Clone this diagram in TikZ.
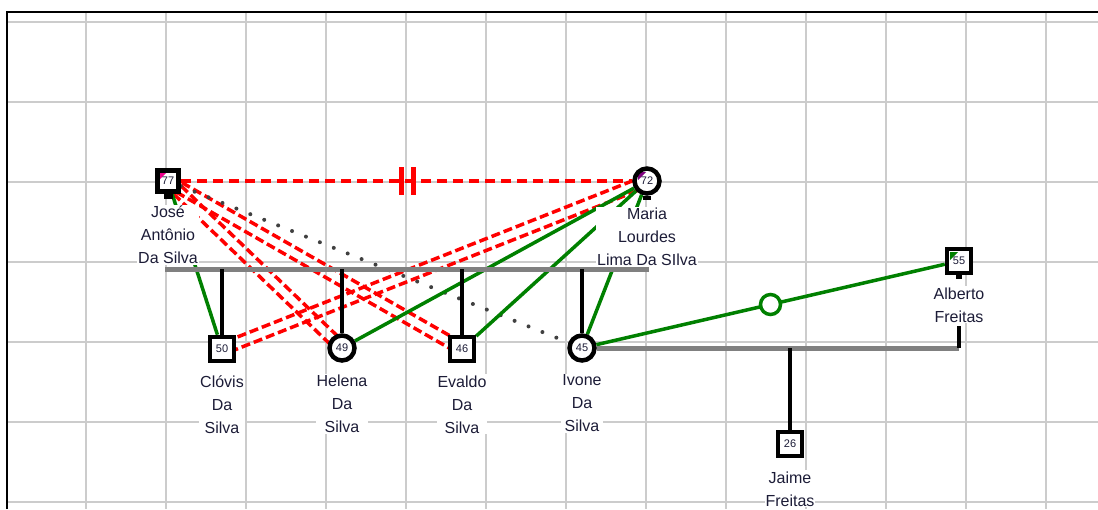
\documentclass[tikz,border=0pt]{standalone}
\usepackage{fontspec}
\setmainfont{Liberation Sans}
\usetikzlibrary{positioning,calc}

\pgfdeclarelayer{grid}
\pgfdeclarelayer{links}
\pgfsetlayers{grid,links,main}

\definecolor{hostilered}{RGB}{255,0,0}
\definecolor{closegreen}{RGB}{0,128,0}
\definecolor{bargray}{RGB}{128,128,128}
\definecolor{gridgray}{RGB}{204,204,204}
\definecolor{dotgray}{RGB}{64,64,64}
\definecolor{labeltext}{RGB}{28,28,55}
\definecolor{markpurple}{RGB}{128,0,128}

\tikzset{
  gridline/.style={gridgray, line width=1.5pt},
  male/.style={draw, line width=4.5pt, fill=white, minimum size=24pt, inner sep=0pt,
    text=labeltext, font=\fontsize{11}{11}\selectfont},
  female/.style={male, circle, minimum size=25pt},
  marked/.style={path picture={\fill[#1] ([shift={(-9pt,9pt)}]path picture bounding box.center)
    -- ++(8pt,0pt) -- ++(-8pt,-8pt) -- cycle;}},
  namelabel/.style={fill=white, inner sep=1pt, align=center, text=labeltext,
    font=\fontsize{16}{23}\selectfont},
  hostileline/.style={hostilered, line width=3.5pt, dash pattern=on 10pt off 6pt},
  hostileband/.style={hostilered, line width=3.5pt, dash pattern=on 9pt off 4pt},
  distantline/.style={dotgray, line width=4pt, line cap=round, dash pattern=on 0pt off 15pt},
  closeline/.style={closegreen, line width=3.5pt},
  sibbar/.style={bargray, line width=5pt},
  childdrop/.style={black, line width=4pt},
  divorce/.style={hostilered, line width=4.5pt},
  ring/.style={circle, draw=closegreen, line width=3.5pt, fill=white, minimum size=20pt, inner sep=0pt},
  stub/.style={fill=black}
}

\begin{document}
\begin{tikzpicture}[x=1pt, y=-1pt]
    \useasboundingbox (0,0) rectangle (1098,509);

    % Grid
    \begin{pgfonlayer}{grid}
        \foreach \x in {86,166,...,1046}
            \draw[gridline] (\x,12) -- (\x,509);
        \foreach \y in {22,102,...,502}
            \draw[gridline] (7,\y) -- (1098,\y);
        \draw[line width=2pt] (7,509) -- (7,12) -- (1098,12);
    \end{pgfonlayer}

    % Parents
    \node[male, minimum size=21pt, marked=magenta] (jose) at (168,181) {77};
    \node[female, marked=markpurple] (maria) at (647,181) {72};

    % Children
    \node[male] (clovis) at (222,349) {50};
    \node[female] (helena) at (342,348) {49};
    \node[male] (evaldo) at (462,349) {46};
    \node[female] (ivone) at (582,348) {45};

    % Ivone's family
    \node[male, marked=closegreen] (alberto) at (959,261) {55};
    \node[male] (jaime) at (790,444) {26};

    % Stubs
    \fill[stub] ($(jose.south)+(-4,0)$) rectangle ++(9,5);
    \fill[stub] ($(maria.south)+(-4,0)$) rectangle ++(8,4);
    \fill[stub] ($(alberto.south)+(-3,0)$) rectangle ++(6,4);

    % Labels
    \node[namelabel, below=11pt of jose] (jose label) {José\\Antônio\\Da Silva};
    \node[namelabel, below=11pt of maria] (maria label) {Maria\\Lourdes\\Lima Da SIlva};
    \node[namelabel, below=11pt of clovis] (clovis label) {Clóvis\\Da\\Silva};
    \node[namelabel, below=11pt of helena] (helena label) {Helena\\Da\\Silva};
    \node[namelabel, below=11pt of evaldo] (evaldo label) {Evaldo\\Da\\Silva};
    \node[namelabel, below=11pt of ivone] (ivone label) {Ivone\\Da\\Silva};
    \node[namelabel, below=11pt of alberto] (alberto label) {Alberto\\Freitas};
    \node[namelabel, below=12pt of jaime] (jaime label) {Jaime\\Freitas};

    % Sibling bar
    \coordinate (bar west) at (165,269);
    \coordinate (bar east) at (649,269);

    \begin{pgfonlayer}{links}
        % Hostile
        \draw[hostileline] (jose) -- (maria);
        \foreach \p/\q in {jose/helena, jose/evaldo, maria/clovis} {
            \draw[hostileband] ($(\p)!5.5pt!90:(\q)$) -- ($(\q)!5.5pt!-90:(\p)$);
            \draw[hostileband] ($(\p)!5.5pt!-90:(\q)$) -- ($(\q)!5.5pt!90:(\p)$);
        }
        % Distant
        \draw[distantline] (jose) -- (ivone);
        % Close
        \foreach \p/\q in {jose/clovis, maria/helena, maria/evaldo, maria/ivone, ivone/alberto}
            \draw[closeline] (\p) -- (\q);
        % Siblings
        \draw[sibbar] (bar west) -- (bar east);
        \foreach \c in {clovis,helena,evaldo,ivone}
            \draw[childdrop] (\c |- bar west) -- (\c);
        % Ivone and Alberto
        \draw[sibbar] (ivone) -- (alberto |- ivone);
        \draw[childdrop] (alberto |- ivone) -- ++(0,-22);
        \draw[childdrop] (jaime |- ivone) -- (jaime);
    \end{pgfonlayer}

    % Markers
    \draw[divorce] ($(jose)!0.5!(maria)+(-6,-14)$) -- ++(0,28);
    \draw[divorce] ($(jose)!0.5!(maria)+(6,-14)$) -- ++(0,28);
    \node[ring] (split) at ($(ivone)!0.5!(alberto)$) {};
\end{tikzpicture}
\end{document}
